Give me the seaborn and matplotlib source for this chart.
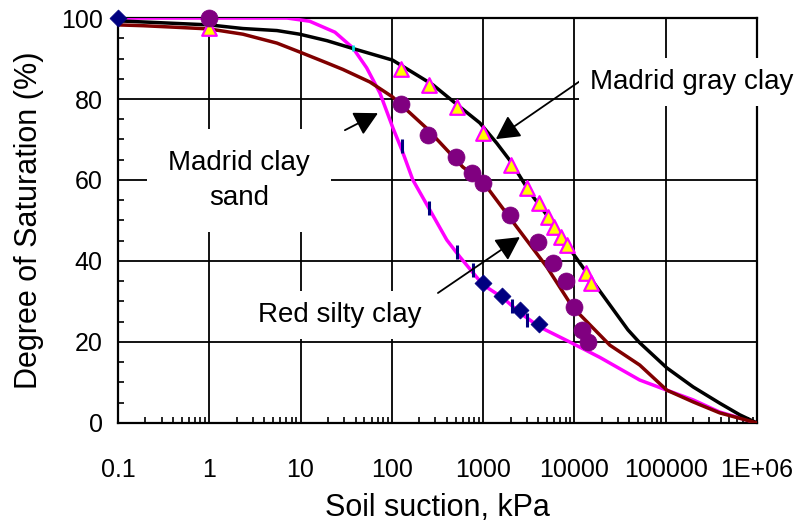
import matplotlib
matplotlib.use("Agg")
import matplotlib.pyplot as plt
import seaborn as sns
import pandas as pd
from matplotlib.ticker import LogLocator, MultipleLocator, FixedLocator, FixedFormatter, NullFormatter

# ---------------- data ----------------
# fitted curves
gray_fit_suction = [0.1, 1, 2.34, 5.52, 9.8, 19.5, 37, 102, 282, 560, 920, 1410, 2000, 3240,
                    5000, 9560, 17600, 38600, 52000, 103000, 200000, 390000, 650000, 1e6]
gray_fit_sat = [99.3, 98.3, 97.4, 96.9, 96.0, 94.4, 92.5, 89.6, 83.5, 78.0, 74.1, 69.1, 64.6, 57.0,
                51.3, 42.0, 33.6, 23.0, 19.8, 13.6, 8.9, 4.9, 2.0, 0.0]

sand_fit_suction = [0.1, 0.188, 0.443, 1, 2.34, 5.52, 9.8, 19.5, 29.1, 57.5, 102, 240, 600, 1000,
                    2130, 5000, 9560, 24500, 52000, 103000, 200000, 390000, 1e6]
sand_fit_sat = [98.3, 98.1, 97.7, 97.3, 96.0, 93.8, 91.6, 88.9, 87.3, 84.2, 80.5, 72.8, 63.2, 59.5,
                49.6, 38.5, 28.6, 19.2, 14.3, 8.1, 5.2, 2.5, 0.0]

red_fit_suction = [0.1, 7.1, 12.6, 23.8, 37.5, 53, 74, 103, 129, 170, 261, 400, 557, 850,
                   1000, 1650, 2530, 4170, 8900, 19000, 52000, 103000, 200000, 390000, 1e6]
red_fit_sat = [100, 100, 99.2, 96.5, 92.6, 87.7, 81.5, 72.8, 67.4, 60.0, 52.6, 45.2, 41.0, 36.0,
               34.1, 30.9, 27.2, 23.7, 20.0, 16.2, 10.6, 8.1, 5.7, 2.7, 0.0]

# measured points
gray_data_suction = [1, 126, 256, 515, 1000, 2000, 3000, 4100, 5100, 5960, 7060, 8260, 13500, 15200]
gray_data_sat = [97.5, 87.4, 83.5, 78.0, 71.6, 63.7, 58.0, 54.3, 50.9, 48.4, 45.9, 44.0, 37.0, 34.6]

sand_data_suction = [1, 126, 248, 500, 753, 1000, 1950, 3960, 5790, 8070, 9800, 12000, 14000]
sand_data_sat = [100, 78.8, 71.1, 65.7, 61.7, 59.3, 51.4, 44.7, 39.5, 35.1, 28.6, 23.0, 20.0]

red_data_suction = [0.1, 1000, 1630, 2530, 4100]
red_data_sat = [100, 34.5, 31.3, 27.9, 24.4]

red_dash_suction = [129, 255, 515, 770, 2090, 3000]
red_dash_sat = [68.4, 53.1, 42.2, 37.8, 29.0, 25.5]

cyan_dash_suction = [37.5]
cyan_dash_sat = [92.6]

x_ticks = [0.1, 1, 10, 100, 1000, 10000, 100000, 1e6]
x_tick_labels = ["0.1", "1", "10", "100", "1000", "10000", "100000", "1E+06"]
y_ticks = [0, 20, 40, 60, 80, 100]

# ---------------- style ----------------
sns.set_style("white")
plt.rcParams["font.family"] = ["Liberation Sans", "DejaVu Sans"]
plt.rcParams["text.color"] = "black"
plt.rcParams["axes.labelcolor"] = "black"
plt.rcParams["xtick.color"] = "black"
plt.rcParams["ytick.color"] = "black"

fig = plt.figure(figsize=(8.01, 5.22), dpi=100)
ax = fig.add_axes([0.1473, 0.1897, 0.945 - 0.1473, 0.9655 - 0.1897])
ax.set_xscale("log")


def df(x, y):
    return pd.DataFrame({"x": x, "y": y})


# curves
sns.lineplot(data=df(red_fit_suction, red_fit_sat), x="x", y="y", ax=ax,
             color="#FF00FF", linewidth=2.5, zorder=3)
sns.lineplot(data=df(gray_fit_suction, gray_fit_sat), x="x", y="y", ax=ax,
             color="black", linewidth=2.5, zorder=3.1)
sns.lineplot(data=df(sand_fit_suction, sand_fit_sat), x="x", y="y", ax=ax,
             color="#800000", linewidth=2.5, zorder=3.2)

# markers
sns.scatterplot(data=df(gray_data_suction, gray_data_sat), x="x", y="y", ax=ax,
                marker="^", s=110, color="#FFFF00", edgecolor="#FF00FF", linewidth=1.6,
                zorder=4, clip_on=False)
sns.scatterplot(data=df(sand_data_suction, sand_data_sat), x="x", y="y", ax=ax,
                marker="o", s=150, color="#800080", edgecolor="#800080", linewidth=0.5,
                zorder=4.5, clip_on=False)
sns.scatterplot(data=df(red_data_suction, red_data_sat), x="x", y="y", ax=ax,
                marker="D", s=75, color="#000080", edgecolor="#000080", linewidth=0.5,
                zorder=5, clip_on=False)
sns.scatterplot(data=df(red_dash_suction, red_dash_sat), x="x", y="y", ax=ax,
                marker="|", s=90, color="#000080", linewidth=2.2, zorder=5.1)
sns.scatterplot(data=df(cyan_dash_suction, cyan_dash_sat), x="x", y="y", ax=ax,
                marker="|", s=20, color="#00E0E0", linewidth=2.0, zorder=5.1)

# axes
ax.set_xlim(0.1, 1e6)
ax.set_ylim(0, 100)
ax.xaxis.set_major_locator(FixedLocator(x_ticks))
ax.xaxis.set_major_formatter(FixedFormatter(x_tick_labels))
ax.xaxis.set_minor_locator(LogLocator(base=10, subs=range(2, 10), numticks=30))
ax.xaxis.set_minor_formatter(NullFormatter())
ax.yaxis.set_major_locator(FixedLocator(y_ticks))
ax.yaxis.set_minor_locator(MultipleLocator(5))

ax.grid(True, which="major", color="black", linewidth=1.3)
ax.tick_params(which="major", length=0, labelsize=18, colors="black")
ax.tick_params(axis="x", which="major", pad=25)
ax.tick_params(axis="y", which="major", pad=11)
ax.tick_params(which="minor", direction="in", length=4.5, width=1.2, color="black",
               bottom=True, left=True, top=False, right=False)
for sp in ax.spines.values():
    sp.set_color("black")
    sp.set_linewidth(1.6)

ax.set_xlabel("Soil suction, kPa", fontsize=22)
ax.set_ylabel("Degree of Saturation (%)", fontsize=22)
ax.xaxis.set_label_coords(0.5, -0.173)
ax.yaxis.set_label_coords(-0.116, 0.5)

# annotations
arrow_kw = dict(arrowstyle="-|>,head_length=0.6,head_width=0.32", color="black",
                lw=1.3, mutation_scale=24, shrinkA=0, shrinkB=0)
ax.annotate("", xy=(1380, 70.1), xytext=(12000, 84.7), arrowprops=arrow_kw, zorder=6)
ax.annotate("", xy=(70.5, 76.5), xytext=(30.6, 72.3), arrowprops=arrow_kw, zorder=6)
ax.annotate("", xy=(2530, 45.9), xytext=(320, 32.1), arrowprops=arrow_kw, zorder=6)

box = dict(boxstyle="square,pad=0.4", fc="white", ec="none")
ax.text(14800, 84.2, "Madrid gray clay", fontsize=20, ha="left", va="center",
        bbox=box, zorder=7, clip_on=False)
ax.text(2.11, 59.8, "Madrid clay\nsand", fontsize=20, ha="center", va="center",
        linespacing=1.45, bbox=dict(boxstyle="square,pad=0.75", fc="white", ec="none"),
        zorder=7)
ax.text(27, 26.7, "Red silty clay", fontsize=20, ha="center", va="center",
        bbox=box, zorder=7)

fig.savefig("out.png", dpi=100)
